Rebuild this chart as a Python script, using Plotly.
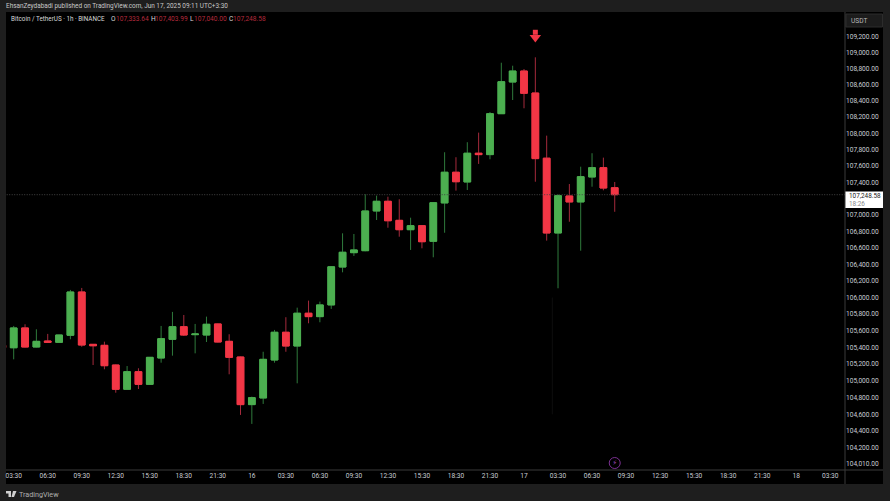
import math
import pandas as pd
import plotly.graph_objects as go

W, H = 890, 501
L, R, T, B = 6, 845, 12, 470

opens = [105425,105396,105634,105405,105477,105461,105546,106067,105437,105425,105189,104899,105109,104958,105273,105497,105649,105553,105549,105682,105473,105285,104716,104795,105249,105582,105417,105811,105770,105911,106369,106543,106567,107050,107168,106936,106822,106871,106681,107148,107523,107404,107756,107739,108242,108633,108769,108497,107695,106782,107233,107160,107465,107579,107333.64]
highs = [105430,105658,105678,105618,105562,105552,106092,106116,105441,105469,105195,105177,105150,105285,105658,105827,105790,105682,105770,105686,105558,105290,104811,105348,105610,105763,105878,105963,105951,106380,106778,106770,107254,107237,107224,107193,106968,106879,107155,107768,107707,107891,108009,108263,108872,108835,108794,108939,107972,107254,107379,107591,107756,107702,107403.99]
lows = [105392,105257,105400,105400,105456,105458,105498,105408,105189,105138,104858,104895,104902,104950,105217,105301,105537,105329,105465,105460,105078,104593,104486,104724,105217,105348,104970,105690,105702,105863,106305,106503,106560,106940,106846,106737,106576,106596,106487,106785,107298,107306,107625,107682,108238,108411,108309,107407,106689,106112,106919,106567,107346,107302,107040.00]
closes = [105398,105634,105405,105473,105461,105549,106067,105429,105420,105181,104899,105109,104958,105281,105505,105649,105549,105561,105678,105465,105281,104716,104799,105257,105582,105417,105811,105770,105911,106372,106548,106576,107050,107168,106931,106822,106871,106676,107151,107523,107407,107756,107739,108242,108637,108769,108494,107690,106782,107237,107160,107469,107579,107330,107248.58]

times = pd.date_range("2025-06-15 02:30", periods=len(opens), freq="h")

x_tick_labels = ["03:30","06:30","09:30","12:30","15:30","18:30","21:30","16",
                 "03:30","06:30","09:30","12:30","15:30","18:30","21:30","17",
                 "03:30","06:30","09:30","12:30","15:30","18:30","21:30","18","03:30"]
x_ticks = pd.date_range("2025-06-15 03:30", periods=len(x_tick_labels), freq="3h")

y_ticks = [104010] + [v for v in range(104200, 109400, 200) if v != 107200]
y_tick_labels = [f"{v:,.2f}" for v in y_ticks]

last_price = 107248.58
signal_prices = [109250, 109185]
faint_line_prices = [106000, 104600]
event_price = 104022

GREEN, RED = "#4caf50", "#f23645"
WICK_G, WICK_R = "#2f7a3c", "#a52a3c"


def px(x):
    return (x - L) / (R - L)


def py(y):
    return 1 - (y - T) / (B - T)


fig = go.Figure()
# wicks
fig.add_trace(go.Candlestick(
    x=times, open=opens, high=highs, low=lows, close=closes,
    increasing=dict(line=dict(color=WICK_G, width=1), fillcolor=GREEN),
    decreasing=dict(line=dict(color=WICK_R, width=1), fillcolor=RED),
    hoverinfo="skip", whiskerwidth=0,
))
# bright bodies on top
fig.add_trace(go.Candlestick(
    x=times, open=opens, close=closes,
    high=[max(o, c) for o, c in zip(opens, closes)],
    low=[min(o, c) for o, c in zip(opens, closes)],
    increasing=dict(line=dict(color=GREEN, width=1), fillcolor=GREEN),
    decreasing=dict(line=dict(color=RED, width=1), fillcolor=RED),
    hoverinfo="skip", whiskerwidth=0,
))
# last price line
fig.add_trace(go.Scatter(
    x=[pd.Timestamp("2025-06-15 02:00"), pd.Timestamp("2025-06-18 05:00")],
    y=[last_price, last_price], mode="lines",
    line=dict(color="#444444", width=1, dash="1px,1.5px"), hoverinfo="skip",
))
# signal arrow
sx = times[47]
fig.add_trace(go.Scatter(
    x=[sx], y=[signal_prices[0]], mode="markers",
    marker=dict(symbol="square", size=5, color=RED, line=dict(width=0)), hoverinfo="skip",
))
fig.add_trace(go.Scatter(
    x=[sx], y=[signal_prices[1]], mode="markers",
    marker=dict(symbol="triangle-down", size=10, color=RED, line=dict(width=0)), hoverinfo="skip",
))
# faint line
fig.add_trace(go.Scatter(
    x=[pd.Timestamp("2025-06-17 03:00"), pd.Timestamp("2025-06-17 03:00")], y=faint_line_prices,
    mode="lines", line=dict(color="#0e0e0e", width=1), hoverinfo="skip",
))
# event icon
fig.add_trace(go.Scatter(
    x=[times[-1]], y=[event_price], mode="markers+text",
    marker=dict(symbol="circle-open", size=11, color="#7a2f91", line=dict(width=1, color="#7a2f91")),
    text=["⚡"], textposition="middle center",
    textfont=dict(size=7, color="#a04abf", family="DejaVu Sans"), hoverinfo="skip",
))

FONT = "Roboto, Arial, sans-serif"
TXT = "#c9ccd4"
FS = 6.6

annotations = [
    dict(x=px(5), y=py(6), text="EhsanZeydabadi published on TradingView.com, Jun 17, 2025 09:11 UTC+3:30",
         font=dict(size=6.4, color="#c8c8c8")),
    dict(x=px(10), y=py(19), text="Bitcoin / TetherUS · 1h · BINANCE", font=dict(size=6.3, color="#d8d8d8")),
    dict(x=px(110), y=py(19), text="O", font=dict(size=FS, color="#d8d8d8")),
    dict(x=px(115), y=py(19), text="107,333.64", font=dict(size=FS, color="#b32a3c")),
    dict(x=px(150), y=py(19), text="H", font=dict(size=FS, color="#d8d8d8")),
    dict(x=px(154), y=py(19), text="107,403.99", font=dict(size=FS, color="#b32a3c")),
    dict(x=px(189), y=py(19), text="L", font=dict(size=FS, color="#d8d8d8")),
    dict(x=px(193), y=py(19), text="107,040.00", font=dict(size=FS, color="#b32a3c")),
    dict(x=px(228), y=py(19), text="C", font=dict(size=FS, color="#d8d8d8")),
    dict(x=px(232), y=py(19), text="107,248.58", font=dict(size=FS, color="#b32a3c")),
    dict(x=px(850), y=py(20.5), text="USDT", font=dict(size=FS, color="#b8b8b8")),
    dict(x=px(848), y=py(199.5), text="107,248.58<br><span style='color:#888888'>18:26</span>",
         align="left", font=dict(size=6.4, color="#222222")),
    dict(x=px(18), y=py(494.5), text="TradingView", font=dict(size=7.2, color="#b0b0b0")),
]
for a in annotations:
    a.update(xref="paper", yref="paper", xanchor="left", yanchor="middle",
             showarrow=False, borderpad=0)

shapes = [
    # axis strips
    dict(type="rect", x0=px(R), x1=px(883), y0=py(T), y1=py(484), fillcolor="#000000", line_width=0, layer="below"),
    dict(type="rect", x0=px(L), x1=px(R), y0=py(B), y1=py(484), fillcolor="#000000", line_width=0, layer="below"),
    # axis lines
    dict(type="line", x0=px(R), x1=px(R), y0=py(T), y1=py(484), line=dict(color="#3a3a3a", width=1)),
    dict(type="line", x0=px(L), x1=px(883), y0=py(B), y1=py(B), line=dict(color="#3a3a3a", width=1)),
    # USDT button
    dict(type="rect", x0=px(846), x1=px(882.5), y0=py(14), y1=py(27), fillcolor="#1c1c1c",
         line=dict(color="#2c2c2c", width=1), layer="below"),
    # last price label
    dict(type="rect", x0=px(R), x1=px(883), y0=py(191.5), y1=py(208), fillcolor="#ffffff", line_width=0, layer="below"),
    # logo
    dict(type="path", path=f"M {px(6)} {py(491)} L {px(11)} {py(491)} L {px(11)} {py(497)} L {px(8.5)} {py(497)} L {px(8.5)} {py(493.5)} L {px(6)} {py(493.5)} Z",
         fillcolor="#d0d0d0", line_width=0),
    dict(type="path", path=f"M {px(13)} {py(491)} L {px(16.5)} {py(491)} L {px(14)} {py(497)} L {px(11.5)} {py(497)} Z",
         fillcolor="#d0d0d0", line_width=0),
]
for s in shapes:
    s["xref"] = "paper"
    s["yref"] = "paper"

ylo = 109200 * math.exp(-(B - 36.3) / 8784)
yhi = 109200 * math.exp((36.3 - T) / 8784)
xlo = pd.Timestamp("2025-06-15 03:30") - pd.Timedelta(hours=(13.7 - L) / 11.34)
xhi = xlo + pd.Timedelta(hours=(R - L) / 11.34)

fig.update_layout(
    width=W, height=H, autosize=False,
    margin=dict(l=L, r=W - R, t=T, b=H - B, pad=0),
    paper_bgcolor="#1e1e1e", plot_bgcolor="#000000",
    showlegend=False, boxgap=0.15,
    font=dict(family=FONT, color=TXT, size=7),
    annotations=annotations, shapes=shapes,
    xaxis=dict(type="date", range=[xlo, xhi], tickmode="array", tickvals=list(x_ticks), ticktext=x_tick_labels,
               showgrid=False, zeroline=False, showline=False, ticks="", rangeslider=dict(visible=False),
               tickangle=0, tickfont=dict(size=FS, color=TXT, family=FONT)),
    yaxis=dict(type="log", side="right", range=[math.log10(ylo), math.log10(yhi)],
               tickmode="array", tickvals=y_ticks, ticktext=y_tick_labels,
               showgrid=False, zeroline=False, showline=False, ticks="", automargin=False,
               tickfont=dict(size=FS, color=TXT, family=FONT)),
)

fig.write_html("out.html", config=dict(displayModeBar=False),
               post_script="document.body.style.margin='0';document.body.style.background='#1e1e1e';document.body.style.overflow='hidden';")
